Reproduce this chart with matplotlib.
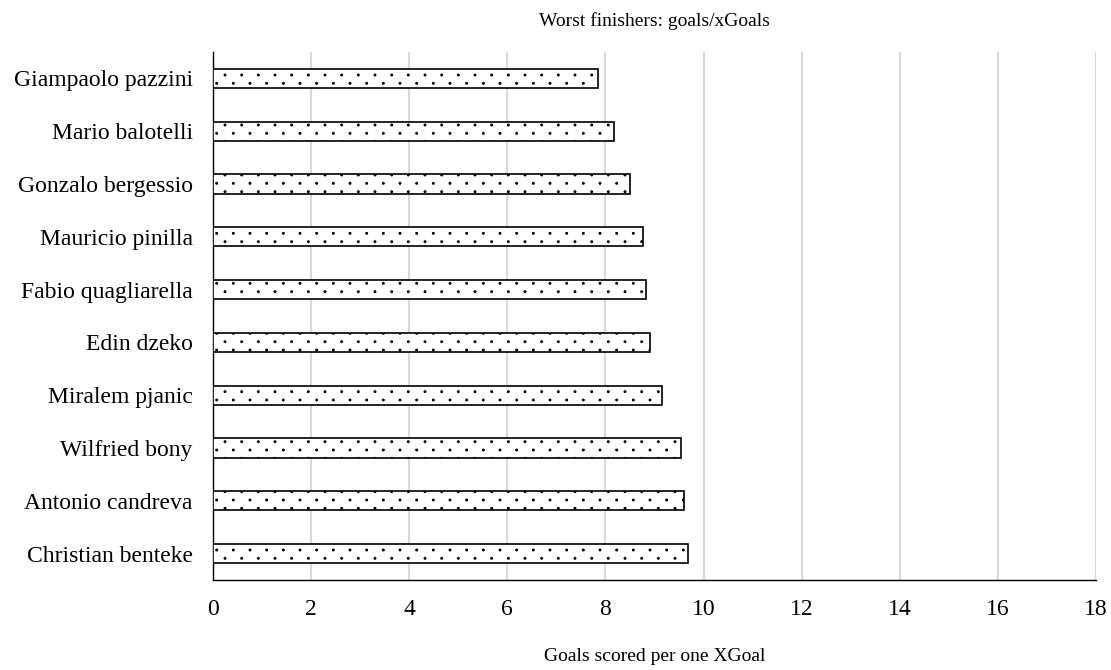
import matplotlib.pyplot as plt
import matplotlib.hatch as mhatch
from matplotlib.path import Path
import numpy as np

players = ['Giampaolo pazzini', 'Mario balotelli', 'Gonzalo bergessio',
           'Mauricio pinilla', 'Fabio quagliarella', 'Edin dzeko',
           'Miralem pjanic', 'Wilfried bony', 'Antonio candreva',
           'Christian benteke']
goals_per_xg = [7.85, 8.18, 8.51, 8.77, 8.83, 8.91, 9.16, 9.55, 9.61, 9.68]
x_ticks = [0, 2, 4, 6, 8, 10, 12, 14, 16, 18]


class StaggeredDots(mhatch.HatchPatternBase):
    """Small dots, rows at half the column spacing, every other row shifted."""
    filled = True
    radius = 0.009

    def __init__(self, hatch, density):
        n = hatch.count('.') * density
        circle = Path.unit_circle()
        self.shape_vertices = circle.vertices
        self.shape_codes = circle.codes
        self.centers = []
        if n:
            for r in range(2 * n + 1):
                yy = r / (2 * n)
                if r % 2 == 0:
                    xs = np.arange(n + 1) / n
                else:
                    xs = (np.arange(n) + 0.5) / n
                self.centers += [(xx, yy) for xx in xs]
        self.num_vertices = len(self.centers) * len(self.shape_vertices)

    def set_vertices_and_codes(self, vertices, codes):
        nv = len(self.shape_vertices)
        for i, (cx, cy) in enumerate(self.centers):
            vertices[i * nv:(i + 1) * nv] = self.shape_vertices * self.radius + (cx, cy)
            codes[i * nv:(i + 1) * nv] = self.shape_codes


# swap matplotlib's '.' hatch for the staggered dot pattern
mhatch._hatch_types = [StaggeredDots if t is mhatch.SmallFilledCircles else t
                       for t in mhatch._hatch_types]

plt.rcParams['font.family'] = ['Liberation Serif', 'DejaVu Serif']
plt.rcParams['hatch.linewidth'] = 0.8

fig = plt.figure(figsize=(11.11, 6.70), dpi=100)
ax = fig.add_axes([213 / 1111, 90 / 670, 883 / 1111, 528 / 670])

y = np.arange(len(players))
ax.barh(y, goals_per_xg, height=0.36, color='white', edgecolor='black',
        linewidth=1.2, hatch='.', zorder=3)

ax.set_xlim(0, 18)
ax.set_ylim(len(players) - 0.5, -0.5)
ax.set_xticks(x_ticks)
ax.set_yticks(y)
ax.set_yticklabels(players)
ax.tick_params(axis='both', length=0, labelsize=17)
ax.tick_params(axis='y', pad=14.5)
ax.tick_params(axis='x', pad=14)

ax.grid(axis='x', color='#d9d9d9', linewidth=1.5, zorder=0)
ax.set_axisbelow(True)
for side in ['top', 'right']:
    ax.spines[side].set_visible(False)
for side in ['left', 'bottom']:
    ax.spines[side].set_linewidth(1.0)
    ax.spines[side].set_color('black')

ax.set_title('Worst finishers: goals/xGoals', fontsize=14, pad=18.5)
ax.set_xlabel('Goals scored per one XGoal', fontsize=14, labelpad=20)

fig.savefig('out.png', dpi=100)
